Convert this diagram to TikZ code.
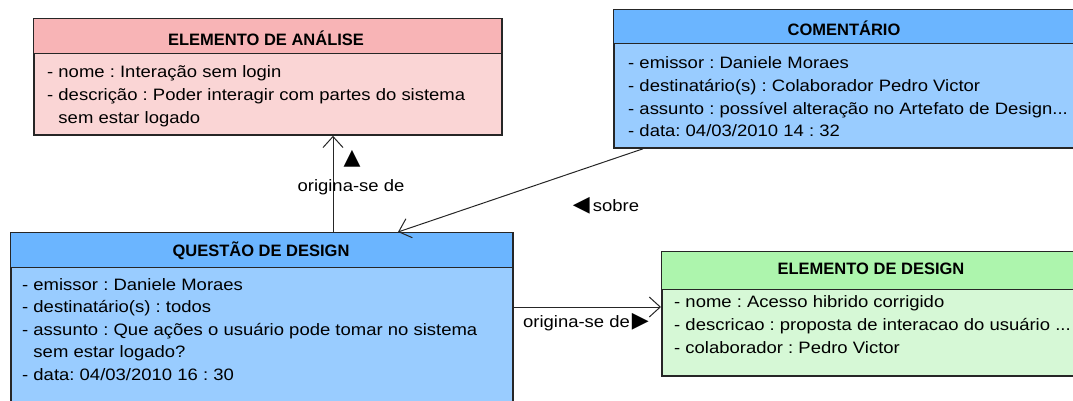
\documentclass[tikz,border=0pt]{standalone}
\usepackage{fontspec}
\setmainfont{Liberation Sans}
\newfontfamily\symfont{DejaVu Sans}
\newfontfamily\bodyfont[FakeStretch=1.12]{Liberation Sans}
\usetikzlibrary{arrows.meta,shadows}
\definecolor{pinkhead}{HTML}{F8B4B6}
\definecolor{pinkbody}{HTML}{FAD5D5}
\definecolor{bluehead}{HTML}{6BB5FF}
\definecolor{bluebody}{HTML}{99CCFF}
\definecolor{greenhead}{HTML}{ADF5AD}
\definecolor{greenbody}{HTML}{D6F8D6}
\tikzset{
  classbox/.style={draw=black!85, line width=1.8pt, anchor=north west, inner sep=0pt,
    drop shadow={shadow xshift=1.5pt, shadow yshift=-1.5pt, fill=black!35, opacity=1}},
  headbox/.style={draw=black!85, line width=1.3pt, anchor=north west, inner sep=0pt},
  title/.style={font=\fontsize{16.5}{18}\selectfont\bfseries, inner sep=0pt},
  attr/.style={font=\bodyfont\fontsize{16.5}{18}\selectfont\frenchspacing, anchor=base west, inner sep=0pt},
  lbl/.style={font=\bodyfont\fontsize{16.5}{18}\selectfont, inner sep=0pt},
  arr/.style={draw=black!85, line width=1pt, -{Straight Barb[length=11pt,width=20pt,line width=1pt]}},
}
\newcommand{\tri}[1]{{\symfont\fontsize{22}{22}\selectfont #1}}
\newcommand{\ind}{\hphantom{- }}
\newcommand{\tdots}{.{}.{}.}
\begin{document}
\begin{tikzpicture}[x=1pt,y=-1pt]
\useasboundingbox (0,0) rectangle (1073,401);
% Elemento de Analise
\node[classbox, fill=pinkbody, minimum width=468pt, minimum height=116pt] (ana) at (33,18) {};
\node[headbox, fill=pinkhead, minimum width=468pt, minimum height=35pt] (anah) at (33,18) {};
\node[title] (anat) at (266,38) {ELEMENTO DE ANÁLISE};
\foreach \t [count=\i] in {{- nome : Interação sem login}, {- descrição : Poder interagir com partes do sistema}, {\ind sem estar logado}}
  \node[attr] (ana-\i) at (47,{78+(\i-1)*22.7}) {\t};
% Comentario
\node[classbox, fill=bluebody, minimum width=466pt, minimum height=138pt] (com) at (613,9) {};
\node[headbox, fill=bluehead, minimum width=466pt, minimum height=34pt] (comh) at (613,9) {};
\node[title] (comt) at (844,28) {COMENTÁRIO};
\foreach \t [count=\i] in {{- emissor : Daniele Moraes}, {- destinatário(s) : Colaborador Pedro Victor}, {- assunto : possível alteração no Artefato de Design\tdots}, {- data: 04/03/2010 14 : 32}}
  \node[attr] (com-\i) at (628,{69+(\i-1)*22.5}) {\t};
% Questao de Design
\node[classbox, fill=bluebody, minimum width=502pt, minimum height=190pt] (que) at (10,232) {};
\node[headbox, fill=bluehead, minimum width=502pt, minimum height=35pt] (queh) at (10,232) {};
\node[title] (quet) at (261,251) {QUESTÃO DE DESIGN};
\foreach \t [count=\i] in {{- emissor : Daniele Moraes}, {- destinatário(s) : todos}, {- assunto : Que ações o usuário pode tomar no sistema}, {\ind sem estar logado?}, {- data: 04/03/2010 16 : 30}}
  \node[attr] (que-\i) at (22,{290+(\i-1)*22.6}) {\t};
% Elemento de Design
\node[classbox, fill=greenbody, minimum width=420pt, minimum height=124pt] (des) at (661,251) {};
\node[headbox, fill=greenhead, minimum width=420pt, minimum height=38pt] (desh) at (661,251) {};
\node[title] (dest) at (871,269) {ELEMENTO DE DESIGN};
\foreach \t [count=\i] in {{- nome : Acesso hibrido corrigido}, {- descricao : proposta de interacao do usuário \tdots}, {- colaborador : Pedro Victor}}
  \node[attr] (des-\i) at (674,{307+(\i-1)*23}) {\t};
% connectors
\draw[arr] ([xshift=323pt]que.north west) -- ([xshift=300pt]ana.south west);
\draw[arr] ([xshift=30pt]com.south west) -- ([xshift=388pt]que.north west);
\draw[arr] ([yshift=-75pt]que.north east) -- ([yshift=-56pt]des.north west);
% labels
\node[lbl] (l1t) at (352,159) {\tri{▲}};
\node[lbl] (l1) at (351,187) {origina-se de};
\node[lbl] (l2) at (606,206) {\tri{◀}\kern3pt sobre};
\node[lbl] (l3) at (586,322) {origina-se de\kern2pt\tri{▶}};
\end{tikzpicture}
\end{document}
